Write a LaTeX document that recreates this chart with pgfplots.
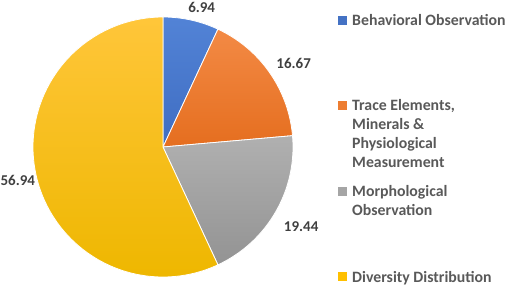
\documentclass[border=0pt]{standalone}
\usepackage{pgfplots}
\pgfplotsset{compat=1.18}
\usepackage{pgfplotstable}
\usepackage{fontspec}
\setmainfont{Carlito}
\definecolor{labgray}{HTML}{404040}
\definecolor{leggray}{HTML}{595959}
\definecolor{bluet}{HTML}{5283D6}
\definecolor{blueb}{HTML}{3F6DC2}
\definecolor{oranget}{HTML}{F38A45}
\definecolor{orangeb}{HTML}{E56E1F}
\definecolor{grayt}{HTML}{B0B0B0}
\definecolor{grayb}{HTML}{939393}
\definecolor{yellowt}{HTML}{FFC63A}
\definecolor{yellowb}{HTML}{EEB700}
\definecolor{blue0}{HTML}{4472C4}
\definecolor{orange0}{HTML}{ED7D31}
\definecolor{gray0}{HTML}{A5A5A5}
\definecolor{yellow0}{HTML}{FFC000}

\pgfplotstableread{
value
6.94
16.67
19.44
56.94
}\piedata

\begin{document}
\begin{tikzpicture}
\pgfplotstablegetelem{0}{value}\of\piedata \let\vA\pgfplotsretval
\pgfplotstablegetelem{1}{value}\of\piedata \let\vB\pgfplotsretval
\pgfplotstablegetelem{2}{value}\of\piedata \let\vC\pgfplotsretval
\pgfplotstablegetelem{3}{value}\of\piedata \let\vD\pgfplotsretval
\pgfmathsetmacro\tot{\vA+\vB+\vC+\vD}
\pgfmathsetmacro\aA{90}
\pgfmathsetmacro\aB{\aA-\vA/\tot*360}
\pgfmathsetmacro\aC{\aB-\vB/\tot*360}
\pgfmathsetmacro\aD{\aC-\vC/\tot*360}
\pgfmathsetmacro\aE{\aD-\vD/\tot*360}
\pgfmathsetmacro\mA{(\aA+\aB)/2}
\pgfmathsetmacro\mB{(\aB+\aC)/2}
\pgfmathsetmacro\mC{(\aC+\aD)/2}
\pgfmathsetmacro\mD{(\aD+\aE)/2}
\def\cx{163}\def\cy{141}\def\R{130}\def\L{135}
\begin{axis}[
  scale only axis, width=505bp, height=288bp,
  xmin=0, xmax=505, ymin=0, ymax=288,
  hide axis, clip=false,
]
\addplot[draw=white, line width=0.8pt, top color=bluet, bottom color=blueb, domain=\aB:\aA, samples=40, variable=\t]
  ({\cx+\R*cos(\t)}, {\cy+\R*sin(\t)}) -- (axis cs:\cx,\cy) -- cycle;
\addplot[draw=white, line width=0.8pt, top color=oranget, bottom color=orangeb, domain=\aC:\aB, samples=60, variable=\t]
  ({\cx+\R*cos(\t)}, {\cy+\R*sin(\t)}) -- (axis cs:\cx,\cy) -- cycle;
\addplot[draw=white, line width=0.8pt, top color=grayt, bottom color=grayb, domain=\aD:\aC, samples=60, variable=\t]
  ({\cx+\R*cos(\t)}, {\cy+\R*sin(\t)}) -- (axis cs:\cx,\cy) -- cycle;
\addplot[draw=white, line width=0.8pt, top color=yellowt, bottom color=yellowb, domain=\aE:\aD, samples=150, variable=\t]
  ({\cx+\R*cos(\t)}, {\cy+\R*sin(\t)}) -- (axis cs:\cx,\cy) -- cycle;

\tikzset{lab/.style={font=\fontsize{15bp}{17bp}\selectfont\bfseries, text=labgray, inner sep=1pt}}
\node[lab, anchor=\mA+180, xshift=8bp, yshift=1bp] at (axis cs:{\cx+\L*cos(\mA)},{\cy+\L*sin(\mA)}) {\vA};
\node[lab, anchor=\mB+180, xshift=11bp] at (axis cs:{\cx+\L*cos(\mB)},{\cy+\L*sin(\mB)}) {\vB};
\node[lab, anchor=\mC+180, xshift=11bp, yshift=-6bp] at (axis cs:{\cx+\L*cos(\mC)},{\cy+\L*sin(\mC)}) {\vC};
\node[lab, anchor=\mD+180, xshift=5bp] at (axis cs:{\cx+\L*cos(\mD)},{\cy+\L*sin(\mD)}) {\vD};

\tikzset{leg/.style={font=\fontsize{15.8bp}{19bp}\selectfont\bfseries, text=leggray, anchor=base west, inner sep=0pt}}
\fill[blue0] (axis cs:338,263) rectangle (axis cs:347,272);
\node[leg] at (axis cs:352,262) {Behavioral Observation};
\fill[orange0] (axis cs:338,178) rectangle (axis cs:347,187);
\node[leg] at (axis cs:352,177) {Trace Elements,};
\node[leg] at (axis cs:352,158) {Minerals \&};
\node[leg] at (axis cs:352,139) {Physiological};
\node[leg] at (axis cs:352,120) {Measurement};
\fill[gray0] (axis cs:338,92) rectangle (axis cs:347,101);
\node[leg] at (axis cs:352,91) {Morphological};
\node[leg] at (axis cs:352,72) {Observation};
\fill[yellow0] (axis cs:338,7) rectangle (axis cs:347,16);
\node[leg] at (axis cs:352,6) {Diversity Distribution};
\end{axis}
\pgfresetboundingbox
\path (current axis.south west) rectangle (current axis.north east);
\end{tikzpicture}
\end{document}
